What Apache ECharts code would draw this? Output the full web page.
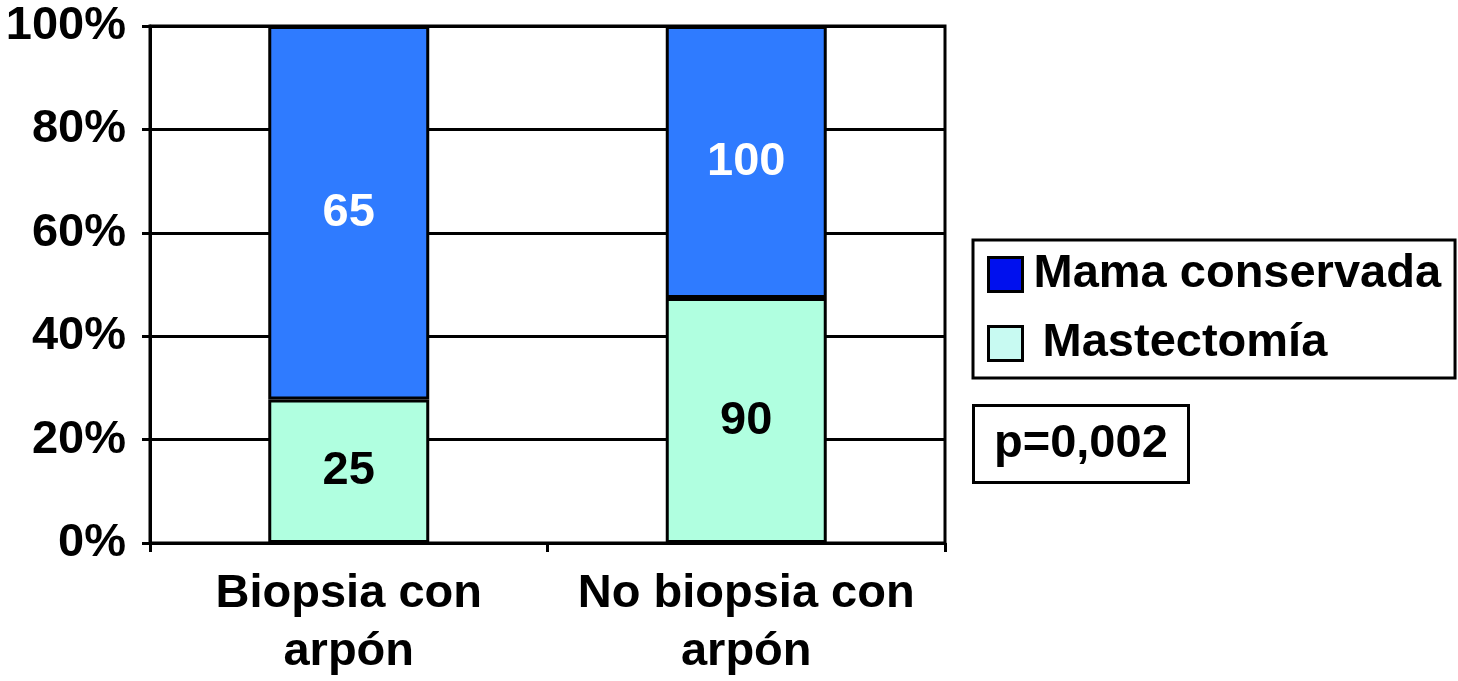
<!DOCTYPE html>
<html>
<head>
<meta charset="utf-8">
<script src="https://cdn.jsdelivr.net/npm/echarts@6/dist/echarts.min.js"></script>
<style>
html,body{margin:0;padding:0;background:#fff;}
#chart{width:1458px;height:681px;}
</style>
</head>
<body>
<div id="chart"></div>
<script>
const categories = ['Biopsia con\narpón', 'No biopsia con\narpón'];
const seriesNames = ['Mama conservada', 'Mastectomía'];
const mamaConservada = [65, 100];
const mastectomia = [25, 90];
const yTicks = [0, 20, 40, 60, 80, 100];
const pText = 'p=0,002';

const totals = categories.map((c, i) => mamaConservada[i] + mastectomia[i]);
const pct = (arr) => arr.map((v, i) => ({ value: v / totals[i] * 100, count: v }));

const FONT = '"Liberation Sans", Arial, Helvetica, sans-serif';
const FS = 47;
const LW = 3;

const chart = echarts.init(document.getElementById('chart'), null, { renderer: 'canvas' });
chart.setOption({
  animation: false,
  backgroundColor: '#fff',
  textStyle: { fontFamily: FONT },
  grid: {
    left: 150, right: 513, top: 26, bottom: 136,
    show: true, borderColor: '#000', borderWidth: LW, backgroundColor: 'transparent'
  },
  title: {
    text: pText,
    left: 973, top: 405,
    padding: [15, 21, 15, 21],
    borderColor: '#000', borderWidth: LW,
    textStyle: { fontFamily: FONT, fontWeight: 'bold', fontSize: FS, color: '#000', lineHeight: 48 }
  },
  legend: {
    orient: 'vertical',
    left: 973, top: 240,
    padding: [11, 14, 11, 14],
    borderColor: '#000', borderWidth: LW,
    itemWidth: 34, itemHeight: 34, itemGap: 22,
    icon: 'rect',
    data: [
      { name: seriesNames[0], itemStyle: { color: '#0010EE', borderColor: '#000', borderWidth: LW } },
      { name: seriesNames[1], itemStyle: { color: '#C8FAF2', borderColor: '#000', borderWidth: LW } }
    ],
    formatter: (n) => n === seriesNames[1] ? '{b| ' + n + '}' : '{a|' + n + '}',
    textStyle: {
      fontFamily: FONT, fontWeight: 'bold', fontSize: FS, color: '#000', lineHeight: 47,
      rich: {
        a: { fontFamily: FONT, fontWeight: 'bold', fontSize: FS, color: '#000', lineHeight: 47, padding: [0, 0, 0, 6] },
        b: { fontFamily: FONT, fontWeight: 'bold', fontSize: FS, color: '#000', lineHeight: 47, padding: [0, 0, 0, 2] }
      }
    }
  },
  xAxis: {
    type: 'category',
    data: categories,
    axisLine: { lineStyle: { color: '#000', width: LW } },
    axisTick: { show: true, interval: 0, length: 9, lineStyle: { color: '#000', width: LW } },
    axisLabel: { interval: 0, fontFamily: FONT, fontWeight: 'bold', fontSize: FS, color: '#000', lineHeight: 58, margin: 22 },
    splitLine: { show: false }
  },
  yAxis: {
    type: 'value',
    min: yTicks[0], max: yTicks[yTicks.length - 1], interval: yTicks[1] - yTicks[0],
    axisLine: { show: true, lineStyle: { color: '#000', width: LW } },
    axisTick: { show: true, length: 8, lineStyle: { color: '#000', width: LW } },
    axisLabel: { fontFamily: FONT, fontWeight: 'bold', fontSize: FS, color: '#000', margin: 24, formatter: '{value}%' },
    splitLine: { show: true, lineStyle: { color: '#000', width: LW } }
  },
  series: [
    {
      name: seriesNames[1], type: 'bar', stack: 'total', barWidth: '40.5%',
      data: pct(mastectomia),
      itemStyle: { color: '#B0FFE0', borderColor: '#000', borderWidth: LW },
      label: { show: true, position: 'inside', formatter: (p) => p.data.count,
        fontFamily: FONT, fontWeight: 'bold', fontSize: FS, color: '#000' }
    },
    {
      name: seriesNames[0], type: 'bar', stack: 'total', barWidth: '40.5%',
      data: pct(mamaConservada),
      itemStyle: { color: '#2F7BFF', borderColor: '#000', borderWidth: LW },
      label: { show: true, position: 'inside', formatter: (p) => p.data.count,
        fontFamily: FONT, fontWeight: 'bold', fontSize: FS, color: '#fff' }
    }
  ]
});
</script>
</body>
</html>
